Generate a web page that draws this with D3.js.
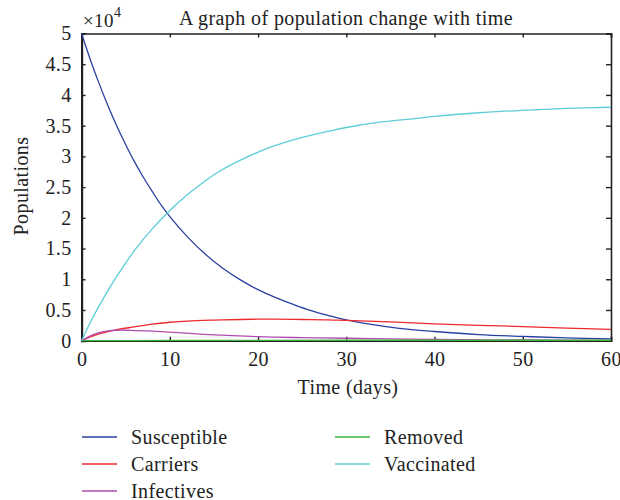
<!DOCTYPE html>
<html><head><meta charset="utf-8">
<script src="https://cdn.jsdelivr.net/npm/d3@7/dist/d3.min.js"></script>
<style>body{margin:0;background:#fff}svg{display:block}text{font-family:"Liberation Serif","DejaVu Serif",serif;fill:#222;letter-spacing:0.4px}</style>
</head><body><svg id="c" width="620" height="500"></svg>
<script>
const seriesNames = ["Susceptible","Carriers","Infectives","Removed","Vaccinated"];
const seriesColors = ["#2b3fa0","#ee2a2e","#b04bb0","#3db33a","#5ccdd8"];
const daysS = [0,1,2,3,4,5,6,7,8,9,10,12,14,16,18,20,22,24,26,28,30,33,36,40,45,50,55,60];
const susceptible = [5.0,4.57,4.18,3.82,3.49,3.19,2.91,2.66,2.43,2.21,2.02,1.69,1.41,1.18,0.99,0.83,0.70,0.59,0.49,0.41,0.34,0.26,0.20,0.15,0.10,0.07,0.045,0.03];
const daysC = [0,1,2,4,6,8,10,12,15,18,20,22,25,28,30,35,40,45,50,55,60];
const carriers = [0,0.06,0.11,0.18,0.225,0.27,0.30,0.32,0.335,0.345,0.35,0.35,0.345,0.34,0.33,0.305,0.275,0.25,0.23,0.205,0.185];
const daysI = [0,1,2,3,4,5,6,8,10,13,16,20,25,30,35,40,50,60];
const infectives = [0,0.08,0.13,0.16,0.17,0.17,0.165,0.155,0.14,0.11,0.09,0.065,0.05,0.04,0.03,0.022,0.012,0.006];
const daysR = [0,10,20,30,40,50,60];
const removed = [0,0.004,0.006,0.007,0.007,0.007,0.007];
const daysV = [0,1,2,3,4,6,8,10,12,14,16,18,20,22,25,28,30,34,38,40,45,50,55,60];
const vaccinated = [0,0.3,0.57,0.82,1.05,1.47,1.82,2.12,2.38,2.6,2.79,2.94,3.07,3.18,3.31,3.41,3.47,3.56,3.62,3.65,3.71,3.75,3.78,3.80];
const xTicks = [0,10,20,30,40,50,60];
const yTicks = [0,0.5,1,1.5,2,2.5,3,3.5,4,4.5,5];
const yTickLabels = ["0","0.5","1","1.5","2","2.5","3","3.5","4","4.5","5"];
const title = "A graph of population change with time";
const xLabel = "Time (days)";
const yLabel = "Populations";

const seriesData = [[daysS,susceptible],[daysC,carriers],[daysI,infectives],[daysR,removed],[daysV,vaccinated]];

const svg = d3.select("#c");
const L=81.6, R=611, T=33.5, B=340.7;
const x = d3.scaleLinear().domain([0,60]).range([L,R]);
const y = d3.scaleLinear().domain([0,5]).range([B,T]);

// axes
const fs = 20;
const gx = svg.append("g").attr("transform",`translate(0,${B})`)
  .call(d3.axisBottom(x).tickValues(xTicks).tickSize(-4).tickPadding(11).tickFormat(d3.format("d")));
const gxt = svg.append("g").attr("transform",`translate(0,${T})`)
  .call(d3.axisTop(x).tickValues(xTicks).tickSize(-4).tickFormat(""));
const gy = svg.append("g").attr("transform",`translate(${L},0)`)
  .call(d3.axisLeft(y).tickValues(yTicks).tickSize(-4).tickPadding(10).tickFormat((d,i)=>yTickLabels[i]));
const gyr = svg.append("g").attr("transform",`translate(${R},0)`)
  .call(d3.axisRight(y).tickValues(yTicks).tickSize(-5).tickFormat(""));
[gx,gxt,gy,gyr].forEach(g=>{
  g.select(".domain").attr("stroke","#222").attr("stroke-width",1.6);
  g.selectAll(".tick line").attr("stroke","#222").attr("stroke-width",1.4);
  g.selectAll("text").attr("font-size",fs).attr("font-family","Liberation Serif").attr("fill","#222");
});
gy.select(".domain").attr("stroke-width",2.2);

// lines
const line = d3.line().x(d=>x(d[0])).y(d=>y(d[1])).curve(d3.curveCatmullRom.alpha(0.5));
seriesData.forEach((s,i)=>{
  const pts = s[0].map((d,j)=>[d,s[1][j]]);
  svg.append("path").attr("d",line(pts)).attr("fill","none")
    .attr("stroke",seriesColors[i]).attr("stroke-width",1.3);
});

// title & exponent
svg.append("text").attr("x",346).attr("y",25).attr("text-anchor","middle").attr("font-size",20).text(title);
const ex = svg.append("text").attr("x",83).attr("y",27).attr("font-size",19);
ex.append("tspan").text("×10");
ex.append("tspan").attr("dy",-10).attr("font-size",14).text("4");

svg.append("text").attr("x",348).attr("y",394).attr("text-anchor","middle").attr("font-size",fs).text(xLabel);
svg.append("text").attr("transform","translate(28,186) rotate(-90)").attr("text-anchor","middle").attr("font-size",fs).text(yLabel);

// legend
const legPos = [[82,437],[82,464],[82,491],[335,437],[335,464]];
seriesNames.forEach((n,i)=>{
  const [lx,ly]=legPos[i];
  svg.append("line").attr("x1",lx).attr("x2",lx+35).attr("y1",ly).attr("y2",ly)
    .attr("stroke",seriesColors[i]).attr("stroke-width",1.3);
  svg.append("text").attr("x",lx+49).attr("y",ly+7).attr("font-size",20).text(n);
});
</script></body></html>
